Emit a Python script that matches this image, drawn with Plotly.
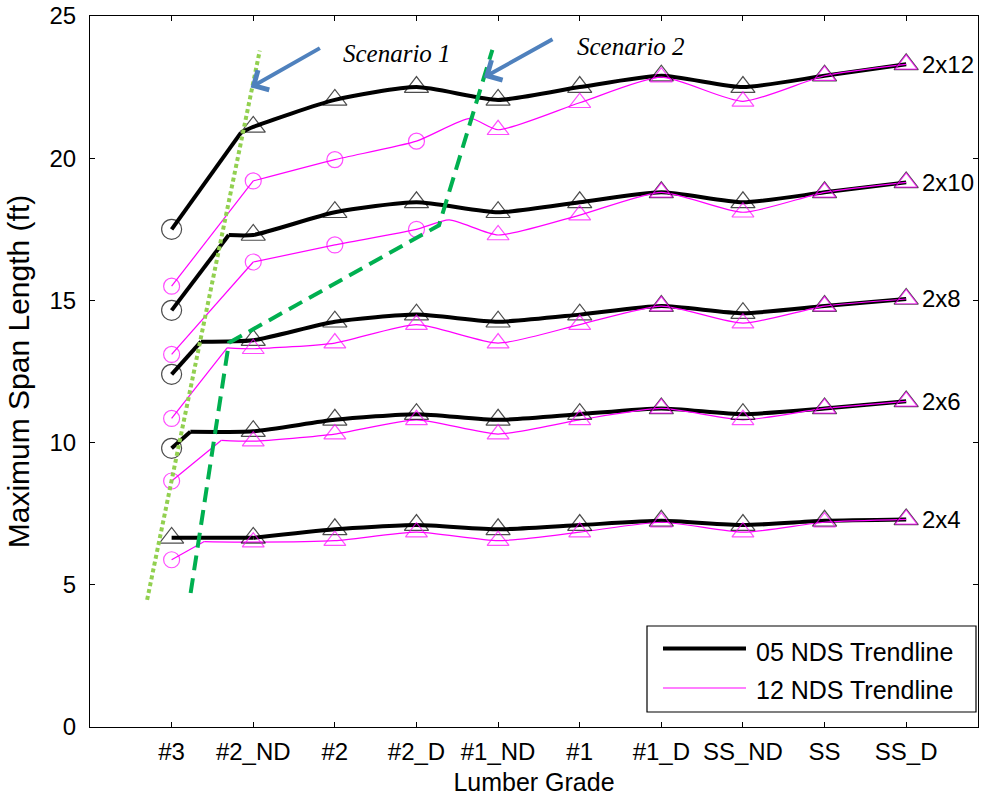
import plotly.graph_objects as go

# ---------------- data ----------------
grades = ["#3", "#2_ND", "#2", "#2_D", "#1_ND", "#1", "#1_D", "SS_ND", "SS", "SS_D"]
grade_pos = list(range(1, 11))
sizes = ["2x12", "2x10", "2x8", "2x6", "2x4"]

# 05 NDS maximum span (ft)
nds05_2x12 = [17.5, 21.1, 22.05, 22.5, 22.05, 22.5, 22.9, 22.5, 22.9, 23.3]
nds05_2x10 = [14.65, 17.3, 18.1, 18.45, 18.1, 18.45, 18.8, 18.45, 18.8, 19.15]
nds05_2x8 = [12.4, 13.6, 14.25, 14.5, 14.25, 14.5, 14.8, 14.55, 14.8, 15.05]
nds05_2x6 = [9.8, 10.4, 10.8, 11.0, 10.8, 11.0, 11.2, 11.0, 11.2, 11.45]
nds05_2x4 = [6.65, 6.65, 6.95, 7.1, 6.95, 7.1, 7.25, 7.1, 7.25, 7.3]

# 12 NDS maximum span (ft)
nds12_2x12 = [15.5, 19.2, 19.95, 20.6, 21.0, 21.95, 22.85, 22.0, 22.9, 23.3]
nds12_2x10 = [13.1, 16.35, 16.95, 17.5, 17.3, 18.0, 18.8, 18.1, 18.8, 19.15]
nds12_2x8 = [10.85, 13.3, 13.5, 14.15, 13.5, 14.15, 14.8, 14.2, 14.8, 15.05]
nds12_2x6 = [8.65, 10.05, 10.3, 10.8, 10.3, 10.8, 11.2, 10.8, 11.2, 11.45]
nds12_2x4 = [5.88, 6.5, 6.55, 6.85, 6.55, 6.85, 7.2, 6.85, 7.2, 7.3]

# extra trendline points (x, y)
knots05_2x12 = [(1.85, 20.9)]
knots05_2x10 = [(1.70, 17.3)]
knots05_2x8 = [(1.36, 13.55)]
knots05_2x6 = [(1.23, 10.38)]
knots05_2x4 = []
knots12_2x12 = [(4.66, 21.4)]
knots12_2x10 = [(4.40, 17.83)]
knots12_2x8 = [(1.68, 13.33)]
knots12_2x6 = [(1.61, 10.08)]
knots12_2x4 = [(1.40, 6.52)]

# number of leading circle markers per series
circles05 = {"2x12": 1, "2x10": 1, "2x8": 1, "2x6": 1, "2x4": 0}
circles12 = {"2x12": 4, "2x10": 4, "2x8": 1, "2x6": 1, "2x4": 1}

# scenario guide lines (data coords)
scen1_x = [0.70, 2.08]
scen1_y = [4.47, 23.78]
scen2_x = [1.233, 1.702, 4.276, 4.93]
scen2_y = [4.71, 13.51, 17.64, 23.81]

nds05 = {"2x12": nds05_2x12, "2x10": nds05_2x10, "2x8": nds05_2x8, "2x6": nds05_2x6, "2x4": nds05_2x4}
nds12 = {"2x12": nds12_2x12, "2x10": nds12_2x10, "2x8": nds12_2x8, "2x6": nds12_2x6, "2x4": nds12_2x4}
knots05 = {"2x12": knots05_2x12, "2x10": knots05_2x10, "2x8": knots05_2x8, "2x6": knots05_2x6, "2x4": knots05_2x4}
knots12 = {"2x12": knots12_2x12, "2x10": knots12_2x10, "2x8": knots12_2x8, "2x6": knots12_2x6, "2x4": knots12_2x4}

BLACK = "#000000"
MAGENTA = "#FF00FF"
FONT = "Liberation Sans, Arial, sans-serif"

fig = go.Figure()


def trend_segments(vals, knots):
    pts = sorted(list(zip(grade_pos, vals)) + list(knots))
    kink = [p for p in knots if 1 < p[0] < 2]
    k = kink[0] if kink else (grade_pos[1], vals[1])
    i = pts.index(k)
    return [(pts[: i + 1], "linear"), (pts[i:], "spline")]


def add_trend(vals, knots, color, width):
    for seg, shape in trend_segments(vals, knots):
        fig.add_trace(go.Scatter(
            x=[p[0] for p in seg], y=[p[1] for p in seg], mode="lines",
            line=dict(color=color, width=width, shape=shape, smoothing=0.6),
            showlegend=False, hoverinfo="skip"))


for s in sizes:
    add_trend(nds05[s], knots05[s], BLACK, 4)
for s in sizes:
    add_trend(nds12[s], knots12[s], MAGENTA, 1.2)


def add_markers(vals, ncirc, color, csize, tsize):
    sym = ["circle-open" if i < ncirc else "triangle-up-open" for i in range(len(vals))]
    sz = [csize if i < ncirc else tsize for i in range(len(vals))]
    fig.add_trace(go.Scatter(
        x=grade_pos, y=vals, mode="markers",
        marker=dict(symbol=sym, size=sz, color=color, line=dict(color=color, width=1.2)),
        showlegend=False, hoverinfo="skip"))


for s in sizes:
    add_markers(nds05[s], circles05[s], BLACK, 20, 21)
for s in sizes:
    add_markers(nds12[s], circles12[s], MAGENTA, 16, 19)

# scenario lines
fig.add_trace(go.Scatter(x=scen1_x, y=scen1_y, mode="lines",
                         line=dict(color="#92D050", width=4, dash="4px,3px"),
                         showlegend=False, hoverinfo="skip"))
fig.add_trace(go.Scatter(x=scen2_x, y=scen2_y, mode="lines",
                         line=dict(color="#00B050", width=4, dash="15px,8px"),
                         showlegend=False, hoverinfo="skip"))

annotations = []
# size labels
for s in sizes:
    annotations.append(dict(x=10, y=nds05[s][-1], xref="x", yref="y", text=s, showarrow=False,
                            xanchor="left", yanchor="middle", xshift=14,
                            font=dict(family=FONT, size=24, color="black")))
# arrows
for tip, tail in [((1.968, 22.49), (2.835, 23.9)), ((4.827, 22.84), (5.685, 24.21))]:
    annotations.append(dict(x=tip[0], y=tip[1], ax=tail[0], ay=tail[1], xref="x", yref="y",
                            axref="x", ayref="y", text="", showarrow=True, arrowhead=4,
                            arrowsize=1.1, arrowwidth=4, arrowcolor="#4F81BD"))
# scenario texts
for txt, xx, yy in [("Scenario 1", 3.764, 23.69), ("Scenario 2", 6.63, 23.92)]:
    annotations.append(dict(x=xx, y=yy, xref="x", yref="y", text="<i>" + txt + "</i>",
                            showarrow=False, xanchor="center", yanchor="middle",
                            font=dict(family="Liberation Serif, Times New Roman, serif", size=25,
                                      color="black")))

# manual legend (pixel geometry -> paper coords)
L, R, T, B = 90, 978, 16, 727


def px(xp):
    return (xp - L) / (R - L)


def py(yp):
    return (B - yp) / (B - T)


shapes = [
    dict(type="rect", xref="paper", yref="paper", x0=px(647), x1=px(976), y0=py(712), y1=py(626),
         line=dict(color="black", width=1.2), fillcolor="white", layer="above"),
    dict(type="line", xref="paper", yref="paper", x0=px(663), x1=px(746), y0=py(648.5), y1=py(648.5),
         line=dict(color=BLACK, width=4), layer="above"),
    dict(type="line", xref="paper", yref="paper", x0=px(663), x1=px(746), y0=py(688), y1=py(688),
         line=dict(color=MAGENTA, width=1.2), layer="above"),
]
for txt, yy in [("05 NDS Trendline", 651.5), ("12 NDS Trendline", 690)]:
    annotations.append(dict(x=px(754), y=py(yy), xref="paper", yref="paper", text=txt,
                            showarrow=False, xanchor="left", yanchor="middle",
                            font=dict(family=FONT, size=25, color="black")))

axis_common = dict(showline=True, linecolor="black", linewidth=1.2, mirror="ticks",
                   ticks="inside", ticklen=5, tickcolor="black", tickwidth=1,
                   showgrid=False, zeroline=False, automargin=False,
                   tickfont=dict(family=FONT, size=24, color="black"))

fig.update_layout(
    width=988, height=800,
    margin=dict(l=L, r=988 - R, t=T, b=800 - B, autoexpand=False),
    paper_bgcolor="white", plot_bgcolor="white",
    showlegend=False, hovermode=False,
    xaxis=dict(range=[0, 10.88], tickmode="array", tickvals=grade_pos, ticktext=grades,
               ticklabelstandoff=3,
               title=dict(text="Lumber Grade", font=dict(family=FONT, size=25, color="black"),
                          standoff=9),
               **axis_common),
    yaxis=dict(range=[0, 25], tickmode="array", tickvals=[0, 5, 10, 15, 20, 25],
               ticklabelstandoff=8,
               title=dict(text="Maximum Span Length (ft)",
                          font=dict(family=FONT, size=30, color="black"), standoff=10),
               **axis_common),
    annotations=annotations,
    shapes=shapes,
)

fig.write_html("out.html")
